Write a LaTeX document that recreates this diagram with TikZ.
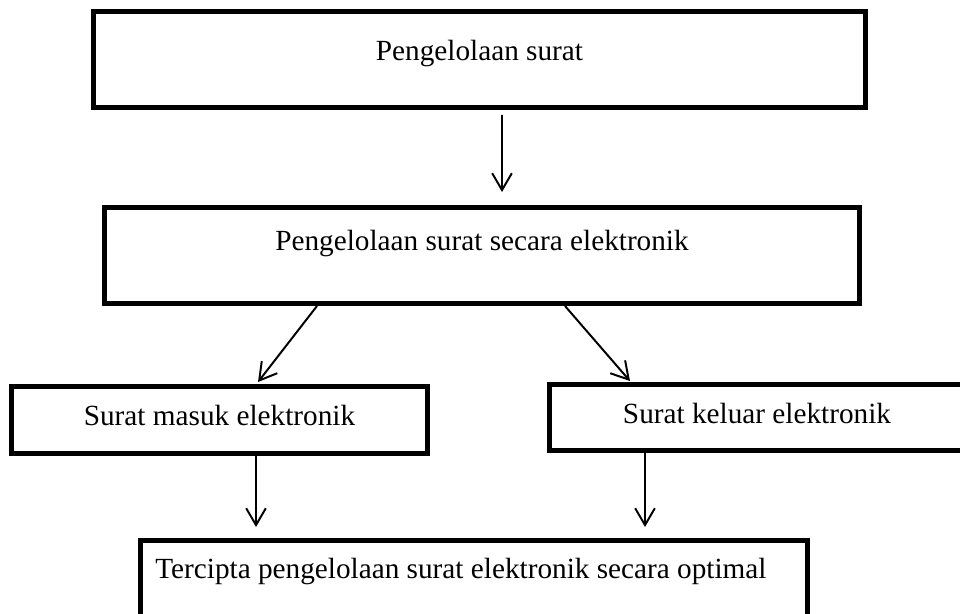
\documentclass[tikz,border=0pt]{standalone}
\usepackage{fontspec}
\setmainfont{Liberation Serif}
\usepackage{tikz}
\usetikzlibrary{arrows.meta, calc}
\tikzset{
  box/.style={rectangle, draw=black, line width=3.5pt, fill=white},
  arrow/.style={line width=1.4pt, -{Straight Barb[length=12pt, width=14pt]}}
}

\begin{document}
\begin{tikzpicture}[x=0.025cm, y=-0.025cm, every node/.style={font=\fontsize{20.8}{25}\selectfont}]
\useasboundingbox (0,0) rectangle (960,613);
\node[box, minimum width=19.3cm, minimum height=2.4cm, label={[yshift=4.6pt]center:Pengelolaan surat}] (surat) at (479.5,59.5) {};
\node[box, minimum width=18.875cm, minimum height=2.4cm, label={[yshift=8.5pt]center:Pengelolaan surat secara elektronik}] (elektronik) at (482,255.5) {};
\node[box, minimum width=10.4cm, minimum height=1.675cm, label={[yshift=3.2pt]center:Surat masuk elektronik}] (masuk) at (219.5,420) {};
\node[box, minimum width=10.375cm, minimum height=1.65cm, label={[yshift=2.6pt]center:Surat keluar elektronik}] (keluar) at (757,417.5) {};
\node[box, minimum width=16.675cm, minimum height=1.9cm, label={[xshift=-9.3pt, yshift=4.8pt]center:Tercipta pengelolaan surat elektronik secara optimal}] (optimal) at (474,578.5) {};

\draw[arrow] ($(surat.south)+(22.5,5)$) -- ($(elektronik.north)+(20,-13)$);
\draw[arrow] ($(elektronik.south)+(-165,0)$) -- ($(masuk.north)+(38.5,-2)$);
\draw[arrow] ($(elektronik.south)+(83,0)$) -- ($(keluar.north)+(-127,-1)$);
\draw[arrow] ($(masuk.south)+(36.5,0)$) -- ($(optimal.north)+(-218,-11)$);
\draw[arrow] ($(keluar.south)+(-112,0)$) -- ($(optimal.north)+(171,-11)$);
\end{tikzpicture}
\end{document}
